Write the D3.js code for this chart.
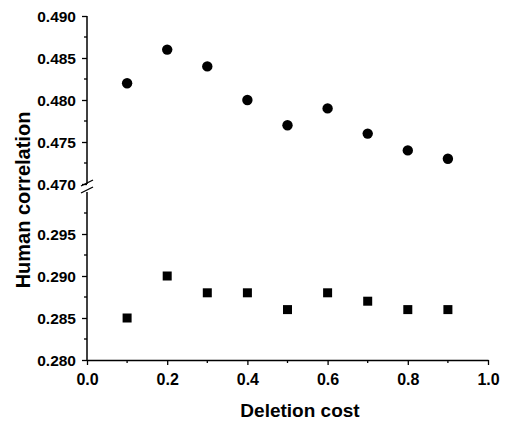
<!DOCTYPE html>
<html>
<head>
<meta charset="utf-8">
<script src="https://cdn.jsdelivr.net/npm/d3@7"></script>
<style>
  body { margin: 0; background: #fff; }
  text { font-family: "Liberation Sans", Arial, sans-serif; font-weight: bold; fill: #000; }
</style>
</head>
<body>
<div id="chart"></div>
<script>
var costs = [0.1, 0.2, 0.3, 0.4, 0.5, 0.6, 0.7, 0.8, 0.9];
var upperVals = [0.482, 0.486, 0.484, 0.480, 0.477, 0.479, 0.476, 0.474, 0.473];
var lowerVals = [0.285, 0.290, 0.288, 0.288, 0.286, 0.288, 0.287, 0.286, 0.286];
var xTicks = [0.0, 0.2, 0.4, 0.6, 0.8, 1.0];
var upperTicks = [0.470, 0.475, 0.480, 0.485, 0.490];
var lowerTicks = [0.280, 0.285, 0.290, 0.295];

var W = 505, H = 423;
var svg = d3.select("#chart").append("svg")
  .attr("width", W)
  .attr("height", H);

var x = d3.scaleLinear().domain([0, 1]).range([87, 488]);
var yUp = d3.scaleLinear().domain([0.470, 0.490]).range([184, 16]);
var yLo = d3.scaleLinear().domain([0.280, 0.300]).range([360, 192]);

// x axis
var xAxis = d3.axisBottom(x)
  .tickValues(xTicks)
  .tickFormat(d3.format(".1f"))
  .tickSize(5)
  .tickSizeOuter(0);
var gx = svg.append("g")
  .attr("transform", "translate(0,360)")
  .call(xAxis);
gx.selectAll(".tick line").attr("stroke-width", 1.3);
gx.select(".domain").attr("stroke-width", 1.5);
gx.selectAll("text").style("font-size", "16px").attr("dy", null).attr("y", 25);
gx.selectAll(".minor").data(d3.range(0.1, 1.0, 0.2)).enter()
  .append("line")
  .attr("x1", function (d) { return x(d); })
  .attr("x2", function (d) { return x(d); })
  .attr("y1", 0).attr("y2", 3)
  .attr("stroke", "#000").attr("stroke-width", 1.3);

// y axes (upper and lower)
function drawY(scale, ticks, top, bottom) {
  var ax = d3.axisLeft(scale)
    .tickValues(ticks)
    .tickFormat(d3.format(".3f"))
    .tickSize(5)
    .tickSizeOuter(0);
  var g = svg.append("g")
    .attr("transform", "translate(87,0)")
    .call(ax);
  g.select(".domain").remove();
  g.append("line")
    .attr("x1", 0).attr("x2", 0)
    .attr("y1", top).attr("y2", bottom)
    .attr("stroke", "#000").attr("stroke-width", 1.5);
  g.selectAll(".tick line").attr("stroke-width", 1.3);
  g.selectAll("text").style("font-size", "15.5px").attr("x", -11).attr("dy", "0.36em");
  var minors = ticks.map(function (t) { return t + 0.0025; })
    .filter(function (v) { return scale(v) >= Math.min(top, bottom) - 0.5; });
  g.selectAll(".minor").data(minors).enter()
    .append("line")
    .attr("x1", -3).attr("x2", 0)
    .attr("y1", function (d) { return scale(d); })
    .attr("y2", function (d) { return scale(d); })
    .attr("stroke", "#000").attr("stroke-width", 1.3);
}
drawY(yUp, upperTicks, 16, 184);
drawY(yLo, lowerTicks, 192, 360);

// break marks
[183, 190].forEach(function (yy) {
  svg.append("line")
    .attr("x1", 81).attr("x2", 93)
    .attr("y1", yy + 3).attr("y2", yy - 3)
    .attr("stroke", "#000").attr("stroke-width", 1.3);
});

// circles (upper)
svg.selectAll(".circ").data(costs).enter()
  .append("circle")
  .attr("cx", function (d) { return x(d); })
  .attr("cy", function (d, i) { return yUp(upperVals[i]); })
  .attr("r", 5.2)
  .attr("fill", "#000");

// squares (lower)
var s = 9;
svg.selectAll(".sq").data(costs).enter()
  .append("rect")
  .attr("x", function (d) { return x(d) - s / 2; })
  .attr("y", function (d, i) { return yLo(lowerVals[i]) - s / 2; })
  .attr("width", s).attr("height", s)
  .attr("fill", "#000");

// titles
svg.append("text")
  .attr("x", 300).attr("y", 417)
  .attr("text-anchor", "middle")
  .style("font-size", "19px")
  .text("Deletion cost");

svg.append("text")
  .attr("transform", "translate(30,200) rotate(-90)")
  .attr("text-anchor", "middle")
  .style("font-size", "20px")
  .text("Human correlation");
</script>
</body>
</html>
